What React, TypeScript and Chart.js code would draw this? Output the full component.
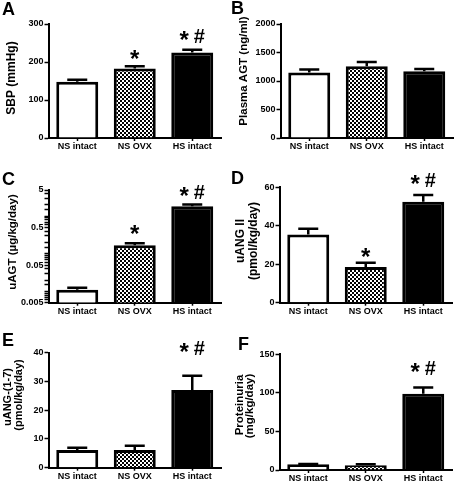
import React, { useEffect, useRef } from 'react';
import { Chart, registerables } from 'chart.js';

Chart.register(...registerables);

// ---------------- DATA ----------------
const categories = ['NS intact', 'NS OVX', 'HS intact'];

const sbpMean = [148, 183, 225];
const sbpSem = [5, 6, 7];
const sbpSig = ['', '*', '* #'];
const sbpTicks = [0, 100, 200, 300];

const plasmaAgtMean = [1150, 1260, 1170];
const plasmaAgtSem = [50, 75, 40];
const plasmaAgtSig = ['', '', ''];
const plasmaAgtTicks = [0, 500, 1000, 1500, 2000];

const uAgtMean = [0.011, 0.17, 1.85];
const uAgtSem = [0.0015, 0.02, 0.2];
const uAgtSig = ['', '*', '* #'];
const uAgtTicks = [0.005, 0.05, 0.5, 5];
const uAgtTickLabels = ['0.005', '0.05', '0.5', '5'];

const uAng2Mean = [35.5, 18.5, 52.5];
const uAng2Sem = [3, 2.3, 3.5];
const uAng2Sig = ['', '*', '* #'];
const uAng2Ticks = [0, 20, 40, 60];

const uAng17Mean = [6.2, 6.2, 27];
const uAng17Sem = [0.7, 1.4, 5];
const uAng17Sig = ['', '', '* #'];
const uAng17Ticks = [0, 10, 20, 30, 40];

const proteinuriaMean = [7.4, 6.3, 99];
const proteinuriaSem = [0.5, 1, 8];
const proteinuriaSig = ['', '', '* #'];
const proteinuriaTicks = [0, 50, 100, 150];

// ---------------- STYLE / LAYOUT ----------------
const FONT = '"Liberation Sans", Arial, Helvetica, sans-serif';
const Y_AXIS_W = 30;
const X_AXIS_H = 20;
const CAT_W = 57.5;

type Panel = {
  letter: string;
  letterPos: [number, number];
  left: number;
  top: number;
  width: number;
  height: number;
  plotLeft: number;
  plotTop: number;
  plotBottom: number;
  titleLines: string[];
  titleCenters: [number, number][];
  titleSize: number;
  means: number[];
  sems: number[];
  sig: string[];
  sigOffset: number[];
  ticks: number[];
  log?: boolean;
  tickLabels?: string[];
};

const panels: Panel[] = [
  {
    letter: 'A', letterPos: [2, 15], left: 0, top: 0, width: 228, height: 170,
    plotLeft: 48.5, plotTop: 24, plotBottom: 138,
    titleLines: ['SBP (mmHg)'], titleCenters: [[12, 78]], titleSize: 12,
    means: sbpMean, sems: sbpSem, sig: sbpSig, sigOffset: [0, 12, 14], ticks: sbpTicks,
  },
  {
    letter: 'B', letterPos: [231, 14], left: 228, top: 0, width: 228, height: 170,
    plotLeft: 280.5, plotTop: 24, plotBottom: 138,
    titleLines: ['Plasma AGT (ng/ml)'], titleCenters: [[243.5, 71]], titleSize: 11.5,
    means: plasmaAgtMean, sems: plasmaAgtSem, sig: plasmaAgtSig, sigOffset: [0, 0, 0], ticks: plasmaAgtTicks,
  },
  {
    letter: 'C', letterPos: [2, 185], left: 0, top: 160, width: 228, height: 170,
    plotLeft: 48.5, plotTop: 190, plotBottom: 302.7,
    titleLines: ['uAGT (\u00b5g/kg/day)'], titleCenters: [[12.5, 242]], titleSize: 11.5,
    means: uAgtMean, sems: uAgtSem, sig: uAgtSig, sigOffset: [0, 14, 13], ticks: uAgtTicks,
    log: true, tickLabels: uAgtTickLabels,
  },
  {
    letter: 'D', letterPos: [231, 184], left: 228, top: 160, width: 228, height: 170,
    plotLeft: 279.5, plotTop: 187.3, plotBottom: 302.7,
    titleLines: ['uANG II', '(pmol/kg/day)'], titleCenters: [[241, 241], [253.5, 241]], titleSize: 12,
    means: uAng2Mean, sems: uAng2Sem, sig: uAng2Sig, sigOffset: [0, 10, 15], ticks: uAng2Ticks,
  },
  {
    letter: 'E', letterPos: [2, 346], left: 0, top: 320, width: 228, height: 170,
    plotLeft: 48.5, plotTop: 352.7, plotBottom: 467.7,
    titleLines: ['uANG-(1-7)', '(pmol/kg/day)'], titleCenters: [[8, 397], [18.5, 395]], titleSize: 11,
    means: uAng17Mean, sems: uAng17Sem, sig: uAng17Sig, sigOffset: [0, 0, 28], ticks: uAng17Ticks,
  },
  {
    letter: 'F', letterPos: [238, 350], left: 228, top: 320, width: 228, height: 170,
    plotLeft: 279.5, plotTop: 354.3, plotBottom: 470,
    titleLines: ['Proteinuria', '(mg/kg/day)'], titleCenters: [[239.5, 405], [250, 406]], titleSize: 11.5,
    means: proteinuriaMean, sems: proteinuriaSem, sig: proteinuriaSig, sigOffset: [0, 0, 19.5], ticks: proteinuriaTicks,
  },
];

function makeChecker(): CanvasPattern | string {
  const c = document.createElement('canvas');
  c.width = 4;
  c.height = 4;
  const g = c.getContext('2d');
  if (!g) return '#888';
  g.fillStyle = '#fff';
  g.fillRect(0, 0, 4, 4);
  g.fillStyle = '#000';
  g.fillRect(0, 0, 2, 2);
  g.fillRect(2, 2, 2, 2);
  return g.createPattern(c, 'repeat') || '#888';
}

function drawSig(ctx: CanvasRenderingContext2D, s: string, cx: number, cy: number) {
  const tokens = s.split(' ');
  const fonts = tokens.map((t) => (t === '*' ? `bold 24px ${FONT}` : `bold 20px ${FONT}`));
  const widths = tokens.map((t, i) => {
    ctx.font = fonts[i];
    return ctx.measureText(t).width;
  });
  const gap = 5;
  const total = widths.reduce((a, b) => a + b, 0) + gap * (tokens.length - 1);
  let x = cx - total / 2;
  ctx.textAlign = 'left';
  ctx.textBaseline = 'alphabetic';
  tokens.forEach((t, i) => {
    ctx.font = fonts[i];
    const m = ctx.measureText(t);
    const asc = m.actualBoundingBoxAscent;
    const desc = m.actualBoundingBoxDescent;
    ctx.fillText(t, x, cy + (asc - desc) / 2);
    x += widths[i] + gap;
  });
}

function decorPlugin(p: Panel) {
  return {
    id: 'decor' + p.letter,
    afterDatasetsDraw(chart: any) {
      const ctx = chart.ctx as CanvasRenderingContext2D;
      const meta = chart.getDatasetMeta(0);
      const ys = chart.scales.y;
      ctx.save();
      ctx.strokeStyle = '#000';
      ctx.lineWidth = 2.5;
      p.means.forEach((m, i) => {
        const el = meta.data[i];
        const x = el.x;
        const yb = ys.getPixelForValue(m);
        const yt = ys.getPixelForValue(m + p.sems[i]);
        ctx.beginPath();
        ctx.moveTo(x, yb);
        ctx.lineTo(x, yt);
        ctx.moveTo(x - 10, yt);
        ctx.lineTo(x + 10, yt);
        ctx.stroke();
      });
      ctx.restore();
    },
    afterDraw(chart: any) {
      const ctx = chart.ctx as CanvasRenderingContext2D;
      const meta = chart.getDatasetMeta(0);
      const ys = chart.scales.y;
      ctx.save();
      ctx.fillStyle = '#000';
      // panel letter
      ctx.font = `bold 18px ${FONT}`;
      ctx.textAlign = 'left';
      ctx.textBaseline = 'alphabetic';
      ctx.fillText(p.letter, p.letterPos[0] - p.left, p.letterPos[1] - p.top);
      // y title
      ctx.font = `bold ${p.titleSize}px ${FONT}`;
      ctx.textAlign = 'center';
      ctx.textBaseline = 'middle';
      p.titleLines.forEach((line, i) => {
        const [cx, cy] = p.titleCenters[i];
        ctx.save();
        ctx.translate(cx - p.left, cy - p.top);
        ctx.rotate(-Math.PI / 2);
        ctx.fillText(line, 0, 0);
        ctx.restore();
      });
      // significance marks
      p.sig.forEach((s, i) => {
        if (!s) return;
        const x = meta.data[i].x;
        const yt = ys.getPixelForValue(p.means[i] + p.sems[i]);
        drawSig(ctx, s, x, yt - p.sigOffset[i]);
      });
      ctx.restore();
    },
  };
}

function buildConfig(p: Panel): any {
  const checker = makeChecker();
  const yScale: any = {
    type: p.log ? 'logarithmic' : 'linear',
    min: p.ticks[0],
    max: p.ticks[p.ticks.length - 1],
    z: 1,
    grid: {
      display: true,
      drawOnChartArea: false,
      drawTicks: true,
      tickLength: 4,
      tickWidth: 1.5,
      tickColor: '#000',
    },
    border: { display: true, color: '#000', width: 2 },
    ticks: {
      color: '#000',
      font: { family: FONT, size: 9, weight: 'bold' },
      padding: 1,
      autoSkip: false,
      callback: (v: number) => {
        if (p.log && p.tickLabels) {
          const idx = p.ticks.findIndex((t) => Math.abs(v - t) / t < 1e-6);
          return idx >= 0 ? p.tickLabels[idx] : '';
        }
        return String(v);
      },
    },
    afterFit: (s: any) => {
      s.width = Y_AXIS_W;
    },
  };
  if (!p.log) {
    yScale.afterBuildTicks = (s: any) => {
      s.ticks = p.ticks.map((v) => ({ value: v }));
    };
  }
  const plotRight = p.plotLeft + CAT_W * categories.length;
  return {
    type: 'bar',
    data: {
      labels: categories,
      datasets: [
        {
          data: p.means,
          backgroundColor: ['#ffffff', checker, '#000000'],
          borderColor: '#000',
          borderWidth: 3,
          borderSkipped: 'start',
          categoryPercentage: 1,
          barPercentage: 0.73,
        },
      ],
    },
    options: {
      responsive: false,
      animation: false,
      events: [],
      layout: {
        padding: {
          left: p.plotLeft - p.left - Y_AXIS_W,
          top: p.plotTop - p.top,
          right: p.left + p.width - plotRight,
          bottom: p.top + p.height - p.plotBottom - X_AXIS_H,
        },
      },
      plugins: {
        legend: { display: false },
        tooltip: { enabled: false },
        title: { display: false },
      },
      scales: {
        x: {
          type: 'category',
          offset: true,
          z: 1,
          grid: {
            display: true,
            drawOnChartArea: false,
            drawTicks: true,
            offset: false,
            tickLength: 3,
            tickWidth: 1.5,
            tickColor: '#000',
          },
          border: { display: true, color: '#000', width: 2 },
          ticks: {
            color: '#000',
            font: { family: FONT, size: 9, weight: 'bold' },
            padding: 0,
            maxRotation: 0,
            autoSkip: false,
          },
          afterFit: (s: any) => {
            s.height = X_AXIS_H;
          },
        },
        y: yScale,
      },
    },
    plugins: [decorPlugin(p)],
  };
}

function PanelChart({ p }: { p: Panel }) {
  const ref = useRef<HTMLCanvasElement>(null);
  useEffect(() => {
    if (!ref.current) return;
    const chart = new Chart(ref.current, buildConfig(p));
    return () => chart.destroy();
  }, [p]);
  return (
    <canvas
      ref={ref}
      width={p.width}
      height={p.height}
      style={{ position: 'absolute', left: p.left, top: p.top, width: p.width, height: p.height }}
    />
  );
}

export default function App() {
  return (
    <div
      style={{
        position: 'absolute',
        left: 0,
        top: 0,
        width: 456,
        height: 482,
        overflow: 'hidden',
        background: '#fff',
      }}
    >
      {panels.map((p) => (
        <PanelChart key={p.letter} p={p} />
      ))}
    </div>
  );
}
